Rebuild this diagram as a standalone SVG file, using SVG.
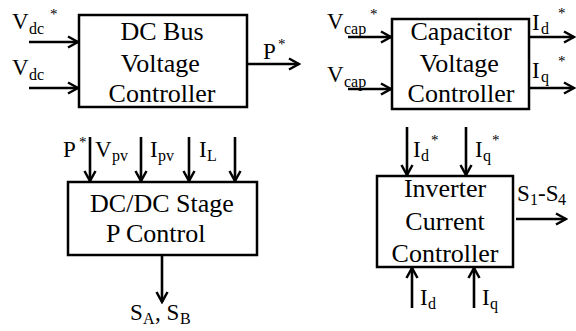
<svg xmlns="http://www.w3.org/2000/svg" width="576" height="331" viewBox="0 0 576 331">
<defs>
<marker id="ah" viewBox="0 0 14 14" refX="12" refY="7" markerWidth="14" markerHeight="14" markerUnits="userSpaceOnUse" orient="auto">
<path d="M2,1.5 L12,7 L2,12.5" fill="none" stroke="#000" stroke-width="2.5"/>
</marker>
<style>
.box{fill:#fff;stroke:#000;stroke-width:2.5}
.c{stroke:#000;stroke-width:2.6;fill:none;marker-end:url(#ah)}
text{font-family:Liberation Serif,serif;fill:#000}
.bt{font-size:26px}
.lb{font-size:23px}
.sb{font-size:16px}
.st{font-size:15px}
</style>
</defs>
<rect width="576" height="331" fill="#fff"/>
<g id="connectors">
<line class="c" x1="29" y1="42" x2="78" y2="42"/>
<line class="c" x1="29" y1="88" x2="78" y2="88"/>
<line class="c" x1="247" y1="64" x2="299" y2="64"/>
<line class="c" x1="348" y1="37" x2="391" y2="37"/>
<line class="c" x1="348" y1="89" x2="391" y2="89"/>
<line class="c" x1="529" y1="37" x2="574" y2="37"/>
<line class="c" x1="529" y1="88" x2="574" y2="88"/>
<line class="c" x1="90" y1="137" x2="90" y2="181"/>
<line class="c" x1="141" y1="137" x2="141" y2="181"/>
<line class="c" x1="189" y1="137" x2="189" y2="181"/>
<line class="c" x1="235" y1="137" x2="235" y2="181"/>
<line class="c" x1="162" y1="256" x2="162" y2="302"/>
<line class="c" x1="407" y1="127" x2="407" y2="175"/>
<line class="c" x1="466" y1="127" x2="466" y2="175"/>
<line class="c" x1="412" y1="308" x2="412" y2="268"/>
<line class="c" x1="474" y1="308" x2="474" y2="268"/>
<line class="c" x1="516" y1="219" x2="566" y2="219"/>
</g>
<g id="dcbus">
<rect class="box" x="79" y="15" width="168" height="92"/>
<text class="bt" x="120.5" y="40">DC Bus</text>
<text class="bt" x="120.8" y="72">Voltage</text>
<text class="bt" x="108.6" y="102">Controller</text>
</g>
<g id="capacitor">
<rect class="box" x="392" y="19" width="137" height="90"/>
<text class="bt" x="410.5" y="40">Capacitor</text>
<text class="bt" x="419.8" y="72">Voltage</text>
<text class="bt" x="407.6" y="102">Controller</text>
</g>
<g id="dcdc">
<rect class="box" x="68" y="182" width="189" height="73"/>
<text class="bt" x="90.1" y="212">DC/DC Stage</text>
<text class="bt" x="106" y="242">P Control</text>
</g>
<g id="inverter">
<rect class="box" x="377" y="176" width="136" height="91"/>
<text class="bt" x="403.9" y="197">Inverter</text>
<text class="bt" x="405.3" y="230">Current</text>
<text class="bt" x="391.6" y="262">Controller</text>
</g>
<g id="labels">
<text class="lb" x="12" y="29">V</text><text class="sb" x="29" y="34">dc</text><text class="st" x="50" y="19">*</text>
<text class="lb" x="12" y="75">V</text><text class="sb" x="29" y="80">dc</text>
<text class="lb" x="263" y="59">P</text><text class="st" x="278" y="49">*</text>
<text class="lb" x="327" y="29">V</text><text class="sb" x="344" y="34">cap</text><text class="st" x="370" y="19">*</text>
<text class="lb" x="327" y="82">V</text><text class="sb" x="344" y="87">cap</text>
<text class="lb" x="532" y="30">I</text><text class="sb" x="541" y="34">d</text><text class="st" x="558" y="18">*</text>
<text class="lb" x="532" y="78">I</text><text class="sb" x="541" y="82">q</text><text class="st" x="558" y="66">*</text>
<text class="lb" x="63" y="157">P</text><text class="st" x="79" y="147">*</text>
<text class="lb" x="95" y="157">V</text><text class="sb" x="112" y="161">pv</text>
<text class="lb" x="150" y="157">I</text><text class="sb" x="158" y="161">pv</text>
<text class="lb" x="199" y="157">I</text><text class="sb" x="207" y="161">L</text>
<text class="lb" x="130" y="320">S</text><text class="sb" x="143" y="324">A</text><text class="lb" x="155" y="320">, S</text><text class="sb" x="180" y="324">B</text>
<text class="lb" x="413" y="157">I</text><text class="sb" x="421" y="161">d</text><text class="st" x="431" y="145">*</text>
<text class="lb" x="475" y="157">I</text><text class="sb" x="483" y="161">q</text><text class="st" x="492" y="145">*</text>
<text class="lb" x="420" y="305">I</text><text class="sb" x="428" y="309">d</text>
<text class="lb" x="482" y="305">I</text><text class="sb" x="490" y="309">q</text>
<text class="lb" x="517" y="201">S</text><text class="sb" x="530" y="205">1</text><text class="lb" x="538" y="201">-S</text><text class="sb" x="558" y="205">4</text>
</g>
</svg>
